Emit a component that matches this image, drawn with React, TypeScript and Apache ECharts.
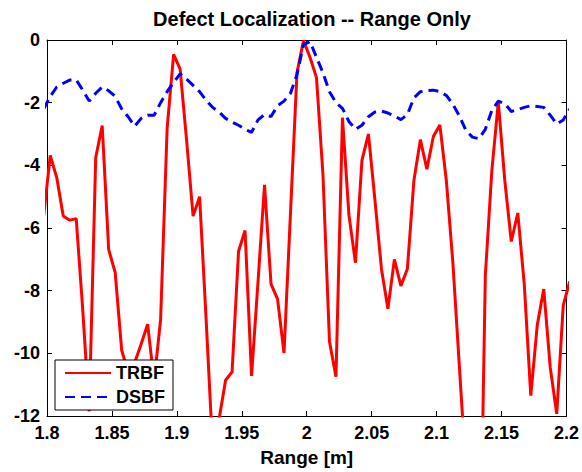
import React, { useEffect, useRef } from "react";
import * as echarts from "echarts";

const rangeValues = [
  1.7975, 1.8025, 1.8075, 1.8125, 1.8175, 1.8225, 1.8275, 1.8325, 1.8375, 1.8425,
  1.8475, 1.8525, 1.8575, 1.8625, 1.8675, 1.8725, 1.8775, 1.8825, 1.8875, 1.8925,
  1.8975, 1.9025, 1.9075, 1.9125, 1.9175, 1.9225, 1.9275, 1.9325, 1.9375, 1.9425,
  1.9475, 1.9525, 1.9575, 1.9625, 1.9675, 1.9725, 1.9775, 1.9825, 1.9875, 1.9925,
  1.9975, 2.0025, 2.0075, 2.0125, 2.0175, 2.0225, 2.0275, 2.0325, 2.0375, 2.0425,
  2.0475, 2.0525, 2.0575, 2.0625, 2.0675, 2.0725, 2.0775, 2.0825, 2.0875, 2.0925,
  2.0975, 2.1025, 2.1075, 2.1125, 2.1175, 2.1225, 2.1275, 2.1325, 2.1375, 2.1425,
  2.1475, 2.1525, 2.1575, 2.1625, 2.1675, 2.1725, 2.1775, 2.1825, 2.1875, 2.1925,
  2.1975, 2.2025,
];

const trbfValues = [
  -5.6, -3.68, -4.39, -5.62, -5.75, -5.7, -8.6, -11.85, -3.76, -2.73,
  -6.69, -7.42, -9.9, -10.6, -10.3, -9.7, -9.07, -10.9, -8.9, -2.82,
  -0.46, -0.93, -3.2, -5.62, -5.0, -8.9, -13.0, -12.1, -10.86, -10.59,
  -6.74, -6.08, -10.72, -7.7, -4.62, -7.79, -8.26, -9.99, -5.5, -1.04,
  -0.02, -0.55, -1.2, -4.3, -9.62, -10.75, -2.48, -5.59, -7.11, -3.84,
  -3.0, -5.1, -7.3, -8.58, -7.0, -7.85, -7.3, -4.49, -3.18, -4.12,
  -3.08, -2.71, -4.49, -7.1, -10.4, -13.7, -18, -19.5, -7.53, -4.18,
  -1.98, -4.49, -6.43, -5.52, -7.8, -11.35, -9.1, -7.95, -10.46, -11.93,
  -8.47, -7.7,
];

const dsbfValues = [
  -2.2, -1.8, -1.5, -1.38, -1.28, -1.27, -1.6, -1.95, -1.7, -1.5,
  -1.62, -1.8, -2.2, -2.45, -2.75, -2.5, -2.4, -2.4, -2.0, -1.65,
  -1.35, -1.08, -1.25, -1.45, -1.65, -1.92, -2.15, -2.3, -2.5, -2.62,
  -2.72, -2.85, -2.95, -2.55, -2.38, -2.44, -2.1, -1.95, -1.7, -1.1,
  -0.15, -0.05, -0.55, -1.05, -1.65, -2.0, -2.18, -2.6, -2.85, -2.72,
  -2.45, -2.3, -2.27, -2.33, -2.42, -2.54, -2.38, -1.85, -1.65, -1.62,
  -1.6, -1.65, -1.77, -2.05, -2.42, -2.88, -3.1, -3.15, -2.85, -2.25,
  -1.95, -2.03, -2.28, -2.22, -2.15, -2.1, -2.12, -2.15, -2.4, -2.68,
  -2.55, -2.2,
];

const seriesNames = ["TRBF", "DSBF"];
const titleText = "Defect Localization -- Range Only";
const xAxisName = "Range [m]";

const FONT = "'Liberation Sans', Arial, Helvetica, sans-serif";

export default function App() {
  const ref = useRef<HTMLDivElement>(null);

  useEffect(() => {
    if (!ref.current) return;
    const chart = echarts.init(ref.current, undefined, { renderer: "svg" });
    const pair = (ys: number[]) => rangeValues.map((x, i) => [x, ys[i]]);
    const labelStyle = { fontFamily: FONT, fontWeight: "bold" as const, fontSize: 18, color: "#000" };
    const tickCommon = { show: true, inside: true, length: 5, lineStyle: { color: "#000", width: 1 } };
    const lineCommon = { show: true, onZero: false, lineStyle: { color: "#000", width: 1 } };

    chart.setOption({
      animation: false,
      backgroundColor: "#fff",
      title: {
        text: titleText,
        left: 307,
        textAlign: "center",
        top: 4,
        textStyle: { fontFamily: FONT, fontWeight: "bold", fontSize: 20, color: "#000" },
      },
      grid: { left: 47, right: 15, top: 40, bottom: 50, containLabel: false },
      legend: {
        left: 55,
        top: 360,
        orient: "vertical",
        data: seriesNames,
        backgroundColor: "#fff",
        borderColor: "#000",
        borderWidth: 1,
        borderRadius: 0,
        padding: [4, 8, 4, 9],
        itemGap: 6,
        itemWidth: 46,
        itemHeight: 18,
        itemStyle: { opacity: 0 },
        textStyle: { fontFamily: FONT, fontWeight: "bold", fontSize: 18, color: "#000" },
      },
      xAxis: [
        {
          type: "value",
          min: 1.8,
          max: 2.2,
          interval: 0.05,
          name: xAxisName,
          nameLocation: "middle",
          nameGap: 32,
          nameTextStyle: { ...labelStyle, fontSize: 19 },
          axisLine: lineCommon,
          axisTick: tickCommon,
          axisLabel: { ...labelStyle, margin: 8 },
          splitLine: { show: false },
        },
        {
          type: "value",
          position: "top",
          min: 1.8,
          max: 2.2,
          interval: 0.05,
          axisLine: lineCommon,
          axisTick: tickCommon,
          axisLabel: { show: false },
          splitLine: { show: false },
        },
      ],
      yAxis: [
        {
          type: "value",
          min: -12,
          max: 0,
          interval: 2,
          axisLine: lineCommon,
          axisTick: tickCommon,
          axisLabel: { ...labelStyle, margin: 7 },
          splitLine: { show: false },
        },
        {
          type: "value",
          position: "right",
          min: -12,
          max: 0,
          interval: 2,
          axisLine: lineCommon,
          axisTick: tickCommon,
          axisLabel: { show: false },
          splitLine: { show: false },
        },
      ],
      series: [
        {
          name: seriesNames[0],
          type: "line",
          data: pair(trbfValues),
          symbol: "none",
          clip: true,
          lineStyle: { color: "#ff0000", width: 3 },
          itemStyle: { color: "#ff0000" },
          z: 2,
        },
        {
          name: seriesNames[1],
          type: "line",
          data: pair(dsbfValues),
          symbol: "none",
          clip: true,
          lineStyle: { color: "#0000ff", width: 3, type: [10, 6] },
          itemStyle: { color: "#0000ff" },
          z: 3,
        },
      ],
    });
    return () => chart.dispose();
  }, []);

  return <div ref={ref} style={{ width: 582, height: 472, position: "absolute", left: 0, top: 0 }} />;
}
